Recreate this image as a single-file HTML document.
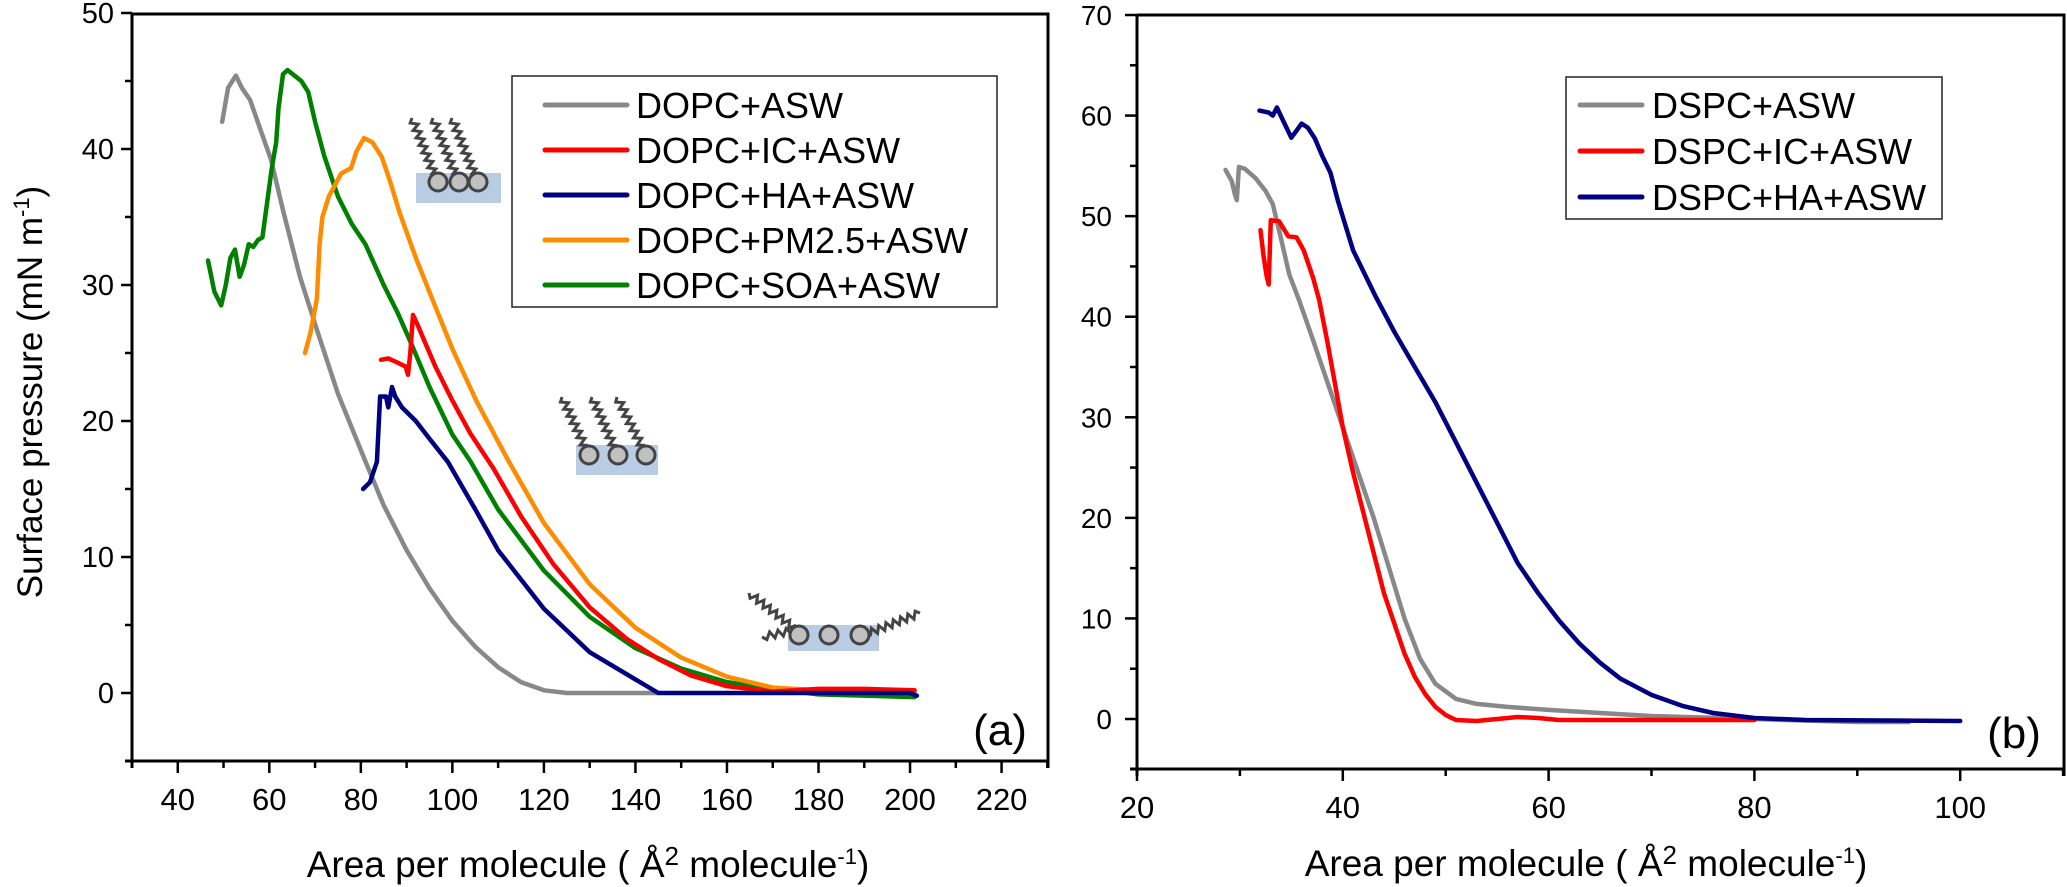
<!DOCTYPE html>
<html><head><meta charset="utf-8"><style>
html,body{margin:0;padding:0;background:#fff;}
svg{display:block;font-family:"Liberation Sans",Arial,sans-serif;}
</style></head><body>
<svg id="chart" width="2067" height="887" viewBox="0 0 2067 887" xmlns="http://www.w3.org/2000/svg">
<g id="pa"></g>
<g id="pb"></g>
</svg>
<script>
// ---------- Panel (a) data ----------
const aXTicks = [40,60,80,100,120,140,160,180,200,220];
const aYTicks = [0,10,20,30,40,50];
const aSeriesNames = ["DOPC+ASW","DOPC+IC+ASW","DOPC+HA+ASW","DOPC+PM2.5+ASW","DOPC+SOA+ASW"];
const aColors = ["#888888","#ff0000","#000080","#ff8c00","#008000"];
const aGrayX = [49.7,51,52.7,54,55.8,58,60.4,63,66.7,70.6,75,80.9,85,90,95,100,105,110,115,120,125,135,145];
const aGrayY = [42,44.5,45.4,44.5,43.6,41.5,39.2,35.5,30.6,26.5,22,17.1,13.8,10.5,7.7,5.3,3.4,1.9,0.8,0.2,0,0,0];
const aRedX = [84.4,86,88,89.8,90.3,90.8,91.4,92.5,94,96.3,100,103.9,109,115,122,130,138,145,152,160,170,180,190,201];
const aRedY = [24.5,24.6,24.3,24,23.4,25,27.8,27,25.8,24,21.5,19.1,16.5,13,9.5,6.3,4,2.5,1.3,0.5,0.1,0.3,0.3,0.2];
const aBlueX = [80.5,82,83.5,84.2,85.5,86,86.8,87.5,89,92,95,99,105,110,120,130,140,145,160,180,200,201.5];
const aBlueY = [15,15.5,17,21.8,21.8,21,22.5,21.8,21,20,18.7,17,13.5,10.5,6.2,3,1,0,0,0,0,-0.2];
const aOrangeX = [67.8,69,70.4,71,71.6,73,75.7,77.9,79,80.7,82.5,84.6,86.5,88.5,92,96.3,100,105.2,112.2,120,130,140,150,160,170,180,201];
const aOrangeY = [25,26.5,29,33,35,36.5,38.2,38.6,39.8,40.8,40.5,39.4,37.5,35.3,32,28.4,25.3,21.5,17.1,12.5,8,4.8,2.6,1.2,0.4,0.2,0.1];
const aGreenX = [46.6,48,49.5,50.5,51.5,52.5,53.5,54.5,55.5,56.5,57.5,58.5,59.5,60.5,61.5,62,63,64,65.5,67,68.5,70,72,75,78,81,85,88,91,95,100,104,110,120,130,140,150,160,170,180,201];
const aGreenY = [31.8,29.5,28.5,30,32,32.6,30.6,31.5,33,32.8,33.3,33.5,36,38.5,40.5,43,45.5,45.8,45.4,45,44.2,42,39.5,36.5,34.5,33,30,28,25.7,22.5,19,17,13.5,9,5.6,3.3,1.8,0.8,0.3,-0.1,-0.3];

// ---------- Panel (b) data ----------
const bXTicks = [20,40,60,80,100];
const bYTicks = [0,10,20,30,40,50,60,70];
const bSeriesNames = ["DSPC+ASW","DSPC+IC+ASW","DSPC+HA+ASW"];
const bColors = ["#888888","#ff0000","#000080"];
const bGrayX = [28.6,29.2,29.5,29.7,29.9,30.5,31.5,32.5,33.2,33.9,34.8,35.8,37,38.5,40,41.5,43,44.5,46,47.5,49,51,53,56,60,65,70,80,90,95];
const bGrayY = [54.6,53.5,52.2,51.6,54.9,54.7,53.8,52.5,51.2,48.2,44.2,41.5,38,33.5,29,24.5,20,15,10,6,3.5,2,1.5,1.2,0.9,0.6,0.3,0,-0.3,-0.3];
const bRedX = [32,32.3,32.6,32.8,33,33.8,34.7,35.5,36.2,37.1,37.7,38.5,39.3,40,41,42,43,44,45,46,47,48,49,50,51,53,55,57,59,61,70,80];
const bRedY = [48.6,46,44,43.2,49.6,49.5,48,47.9,46.6,43.9,41.7,37.5,33,29,24.5,20.5,16.5,12.5,9.5,6.5,4.2,2.5,1.2,0.4,-0.1,-0.2,0,0.2,0.1,-0.1,-0.1,-0.1];
const bBlueX = [31.9,32.8,33.2,33.6,34.2,35,35.5,36,36.6,37.3,38,38.8,39.5,41,43.2,45,47,49,51,53,55,57,59,61,63,65,67,70,73,76,80,85,100];
const bBlueY = [60.5,60.3,60,60.8,59.5,57.8,58.5,59.2,58.8,57.7,56,54.3,51.6,46.6,42,38.5,35,31.5,27.5,23.5,19.5,15.5,12.5,9.8,7.5,5.6,4,2.4,1.3,0.6,0.1,-0.1,-0.2];

const NS = "http://www.w3.org/2000/svg";
function mk(parent, tag, attrs, text){
  const e = document.createElementNS(NS, tag);
  for (const k in attrs) e.setAttribute(k, attrs[k]);
  if (text !== undefined) e.textContent = text;
  parent.appendChild(e);
  return e;
}

const ax = v => 132 + (v - 30) * 4.5767;
const ay = v => 693 - v * 13.6;
const bx = v => 1137 + (v - 20) * 10.29;
const by = v => 719 - v * 10.057;

function drawFrame(g, L, R, T, B){
  const f = mk(g, "path", {d:`M${L},${T} H${R} V${B+7} M${L},${T} V${B+7} M${L-7},${B} H${R}`, stroke:"#000", "stroke-width":3, fill:"none"});
  
  
}

function drawSeries(g, xs, ys, fx, fy, color, name){
  let d = "";
  for (let i = 0; i < xs.length; i++) d += (i ? "L" : "M") + fx(xs[i]).toFixed(1) + "," + fy(ys[i]).toFixed(1);
  const p = mk(g, "path", {d:d, stroke:color, "stroke-width":4.5, fill:"none", "stroke-linejoin":"round", "stroke-linecap":"round"});
  
  
}

function wave(g, x1, y1, x2, y2){
  const dx = x2 - x1, dy = y2 - y1, len = Math.hypot(dx, dy);
  const ux = dx/len, uy = dy/len, nx = -uy, ny = ux;
  const n = Math.round(len / 4);
  let d = "M" + x1 + "," + y1;
  for (let i = 1; i <= n; i++){
    const t = i/n*len, s = (i % 2 ? 3.5 : -3.5);
    d += "L" + (x1 + ux*t + nx*s).toFixed(1) + "," + (y1 + uy*t + ny*s).toFixed(1);
  }
  const w = mk(g, "path", {d:d, stroke:"#444", "stroke-width":3, fill:"none"});
  
  
}
function lipidIcon(g, rect, heads, tails){
  const r = mk(g, "rect", {x:rect[0], y:rect[1], width:rect[2], height:rect[3], fill:"#b8cce4"});
  
  
  tails.forEach(t => wave(g, t[0], t[1], t[2], t[3]));
  heads.forEach(h => {
    const c = mk(g, "circle", {cx:h[0], cy:h[1], r:9, fill:"#c0c0c0", stroke:"#444", "stroke-width":3});
    
    
  });
}

// ---------- Panel A ----------
const pa = document.getElementById("pa");
drawFrame(pa, 132, 1048, 14, 761);
for (let v = -5; v <= 50; v += 5){
  const major = v % 10 === 0;
  const t = mk(pa, "line", {x1:132 - (major ? 11 : 7), x2:132, y1:ay(v), y2:ay(v), stroke:"#000", "stroke-width":2.5});
  
  
}
aYTicks.forEach(v => {
  const t = mk(pa, "text", {x:114, y:ay(v)+10, "font-size":29, "text-anchor":"end"}, String(v));
  
  
});
for (let v = 30; v <= 230; v += 10){
  const major = v % 20 === 0;
  const t = mk(pa, "line", {x1:ax(v), x2:ax(v), y1:761, y2:761 + (major ? 12 : 7), stroke:"#000", "stroke-width":2.5});
  
  
}
aXTicks.forEach(v => {
  const t = mk(pa, "text", {x:ax(v), y:810, "font-size":31, "text-anchor":"middle"}, String(v));
  
  
});
const aXT = mk(pa, "text", {x:588, y:877, "font-size":37, "text-anchor":"middle"});


aXT.innerHTML = 'Area per molecule ( Å<tspan font-size="26" dy="-12">2</tspan><tspan dy="12"> molecule</tspan><tspan font-size="22" dy="-13">-1</tspan><tspan dy="13">)</tspan>';
const aYT = mk(pa, "text", {x:0, y:0, "font-size":35, "text-anchor":"middle", transform:"translate(42,392) rotate(-90)"});


aYT.innerHTML = 'Surface pressure (mN m<tspan font-size="22" dy="-13">-1</tspan><tspan dy="13">)</tspan>';
const aLab = mk(pa, "text", {x:1000, y:745, "font-size":44, "text-anchor":"middle"}, "(a)");



lipidIcon(pa, [416,173,85,30], [[438,182],[459,182],[478,182]], [[412,118,434,174],[433,118,455,174],[452,118,474,174]]);
lipidIcon(pa, [576,445,82,30], [[589,455],[618,455],[646,455]], [[562,397,585,447],[592,397,614,447],[617,397,642,447]]);
lipidIcon(pa, [788,625,91,26], [[799,635],[829,635],[860,635]], [[749,593,794,628],[762,637,791,631],[920,613,869,633]]);

const aXs = [aGrayX, aRedX, aBlueX, aOrangeX, aGreenX];
const aYs = [aGrayY, aRedY, aBlueY, aOrangeY, aGreenY];
const aSerNames = ["series-dopc-asw","series-dopc-ic-asw","series-dopc-ha-asw","series-dopc-pm25-asw","series-dopc-soa-asw"];
[0,4,3,1,2].forEach(i => drawSeries(pa, aXs[i], aYs[i], ax, ay, aColors[i], aSerNames[i]));

const lgA = mk(pa, "g", {});


const lbA = mk(lgA, "rect", {x:512, y:76, width:485, height:231, fill:"#fff", stroke:"#222", "stroke-width":1.5});


aSeriesNames.forEach((n, i) => {
  const y = 105 + i*45;
  const l = mk(lgA, "line", {x1:545, x2:627, y1:y, y2:y, stroke:aColors[i], "stroke-width":5, "stroke-linecap":"round"});
  
  
  const t = mk(lgA, "text", {x:636, y:y+13, "font-size":36}, n);
  
  
});

// ---------- Panel B ----------
const pb = document.getElementById("pb");
drawFrame(pb, 1137, 2064, 15, 769);
for (let v = -5; v <= 70; v += 5){
  const major = v % 10 === 0;
  const t = mk(pb, "line", {x1:1137 - (major ? 12 : 7), x2:1137, y1:by(v), y2:by(v), stroke:"#000", "stroke-width":2.5});
  
  
}
bYTicks.forEach(v => {
  const t = mk(pb, "text", {x:1112, y:by(v)+10, "font-size":28, "text-anchor":"end"}, String(v));
  
  
});
for (let v = 20; v <= 110; v += 10){
  const major = v % 20 === 0;
  const t = mk(pb, "line", {x1:bx(v), x2:bx(v), y1:769, y2:769 + (major ? 12 : 7), stroke:"#000", "stroke-width":2.5});
  
  
}
bXTicks.forEach(v => {
  const t = mk(pb, "text", {x:bx(v), y:818, "font-size":31, "text-anchor":"middle"}, String(v));
  
  
});
const bXT = mk(pb, "text", {x:1586, y:876, "font-size":37, "text-anchor":"middle"});


bXT.innerHTML = 'Area per molecule ( Å<tspan font-size="26" dy="-12">2</tspan><tspan dy="12"> molecule</tspan><tspan font-size="22" dy="-13">-1</tspan><tspan dy="13">)</tspan>';
const bLab = mk(pb, "text", {x:2014, y:748, "font-size":44, "text-anchor":"middle"}, "(b)");



const bXs = [bGrayX, bRedX, bBlueX];
const bYs = [bGrayY, bRedY, bBlueY];
const bSerNames = ["series-dspc-asw","series-dspc-ic-asw","series-dspc-ha-asw"];
[0,1,2].forEach(i => drawSeries(pb, bXs[i], bYs[i], bx, by, bColors[i], bSerNames[i]));

const lgB = mk(pb, "g", {});


const lbB = mk(lgB, "rect", {x:1566, y:77, width:376, height:142, fill:"#fff", stroke:"#222", "stroke-width":1.5});


bSeriesNames.forEach((n, i) => {
  const y = 105 + i*46;
  const l = mk(lgB, "line", {x1:1580, x2:1642, y1:y, y2:y, stroke:bColors[i], "stroke-width":5, "stroke-linecap":"round"});
  
  
  const t = mk(lgB, "text", {x:1652, y:y+13, "font-size":36}, n);
  
  
});
</script>
</body></html>
